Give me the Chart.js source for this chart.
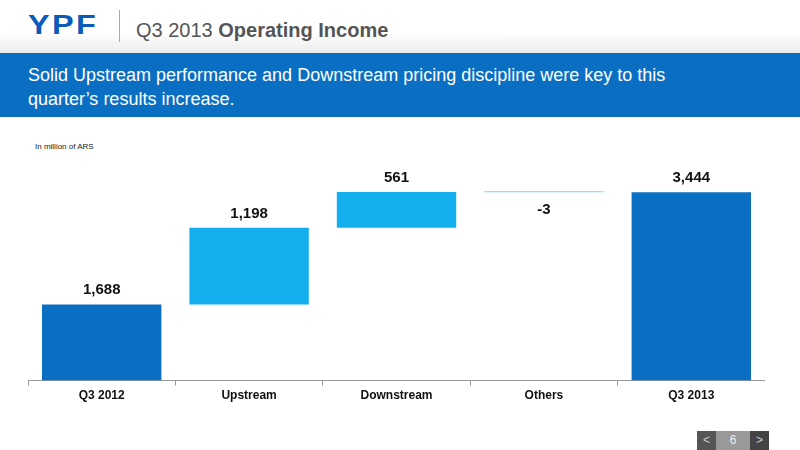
<!DOCTYPE html>
<html>
<head>
<meta charset="utf-8">
<script src="https://cdn.jsdelivr.net/npm/chart.js@4"></script>
<style>
  body { margin: 0; width: 800px; height: 450px; position: relative; background: #fff; font-family: "Liberation Sans", Arial, sans-serif; overflow: hidden; }
  .top { position: absolute; left: 0; top: 0; width: 800px; height: 53px; background: linear-gradient(#fff, #fff 60%, #ececec); }
  .logo { position: absolute; left: 28px; top: 10px; font: 900 27px "Liberation Sans", Arial, sans-serif; color: #0a5cb8; letter-spacing: 2px; transform: scaleX(1.2); transform-origin: left; }
  .sep { position: absolute; left: 119px; top: 10px; width: 1px; height: 32px; background: #aaa; }
  .title { position: absolute; left: 136px; top: 19px; font-size: 20px; color: #555; }
  .band { position: absolute; left: 0; top: 53px; width: 800px; height: 64px; background: #0a6fc2; color: #fff; font-size: 18px; line-height: 24px; padding: 10px 0 0 28px; box-sizing: border-box; }
  .unit { position: absolute; left: 35px; top: 142px; font-size: 8px; color: #222; }
  .wrap { position: absolute; left: 28px; top: 150px; width: 737px; height: 256px; }
  .pager { position: absolute; left: 697px; top: 431px; height: 19px; display: flex; }
  .pager div { height: 19px; line-height: 19px; text-align: center; color: #ccc; font-size: 12px; }
</style>
</head>
<body>
<div class="top"></div>
<div class="logo">YPF</div>
<div class="sep"></div>
<div class="title">Q3 2013 <b>Operating Income</b></div>
<div class="band">Solid Upstream performance and Downstream pricing discipline were key to this<br>quarter’s results increase.</div>
<div class="unit">In million of ARS</div>
<div class="wrap"><canvas id="c"></canvas></div>
<div class="pager">
  <div style="width:19px;background:#555">&lt;</div>
  <div style="width:34px;background:#999;color:#eee">6</div>
  <div style="width:19px;background:#444">&gt;</div>
</div>
<script>
const categories = ['Q3 2012', 'Upstream', 'Downstream', 'Others', 'Q3 2013'];
const changes = [1688, 1198, 561, -3, 3444];
const labels = ['1,688', '1,198', '561', '-3', '3,444'];
const colors = ['#0a6fc2', '#12aeee', '#12aeee', '#7fd3f5', '#0a6fc2'];

// waterfall ranges: first and last start at the axis floor, middle ones float
const floor = 497;
let running = 0;
const ranges = changes.map(function (v, i) {
  if (i === 0) { running = v; return [floor, v]; }
  if (i === changes.length - 1) return [floor, v];
  const r = [running, running + v];
  running += v;
  return r;
});

const valueLabels = {
  id: 'valueLabels',
  afterDatasetsDraw(chart) {
    const ctx = chart.ctx;
    const meta = chart.getDatasetMeta(0);
    ctx.save();
    ctx.font = 'bold 15px "Liberation Sans", Arial, sans-serif';
    ctx.fillStyle = '#111';
    ctx.textAlign = 'center';
    meta.data.forEach(function (bar, i) {
      let y = Math.min(bar.y, bar.base) - 10;
      if (changes[i] < 0) y = Math.max(bar.y, bar.base) + 22;
      ctx.fillText(labels[i], bar.x, y);
    });
    ctx.restore();
  }
};

new Chart(document.getElementById('c'), {
  type: 'bar',
  data: {
    labels: categories,
    datasets: [{
      data: ranges,
      backgroundColor: colors,
      borderSkipped: false,
      minBarLength: 1,
      barPercentage: 0.81,
      categoryPercentage: 1
    }]
  },
  options: {
    responsive: true,
    maintainAspectRatio: false,
    animation: false,
    layout: { padding: 0 },
    plugins: { legend: { display: false }, tooltip: { enabled: false } },
    scales: {
      y: { display: false, min: floor, max: 4103 },
      x: {
        grid: { offset: true, drawOnChartArea: false, color: '#999', tickLength: 5 },
        border: { color: '#999' },
        ticks: { color: '#111', font: { size: 12, weight: 'bold', family: '"Liberation Sans", Arial, sans-serif' } }
      }
    }
  },
  plugins: [valueLabels]
});
</script>
</body>
</html>
